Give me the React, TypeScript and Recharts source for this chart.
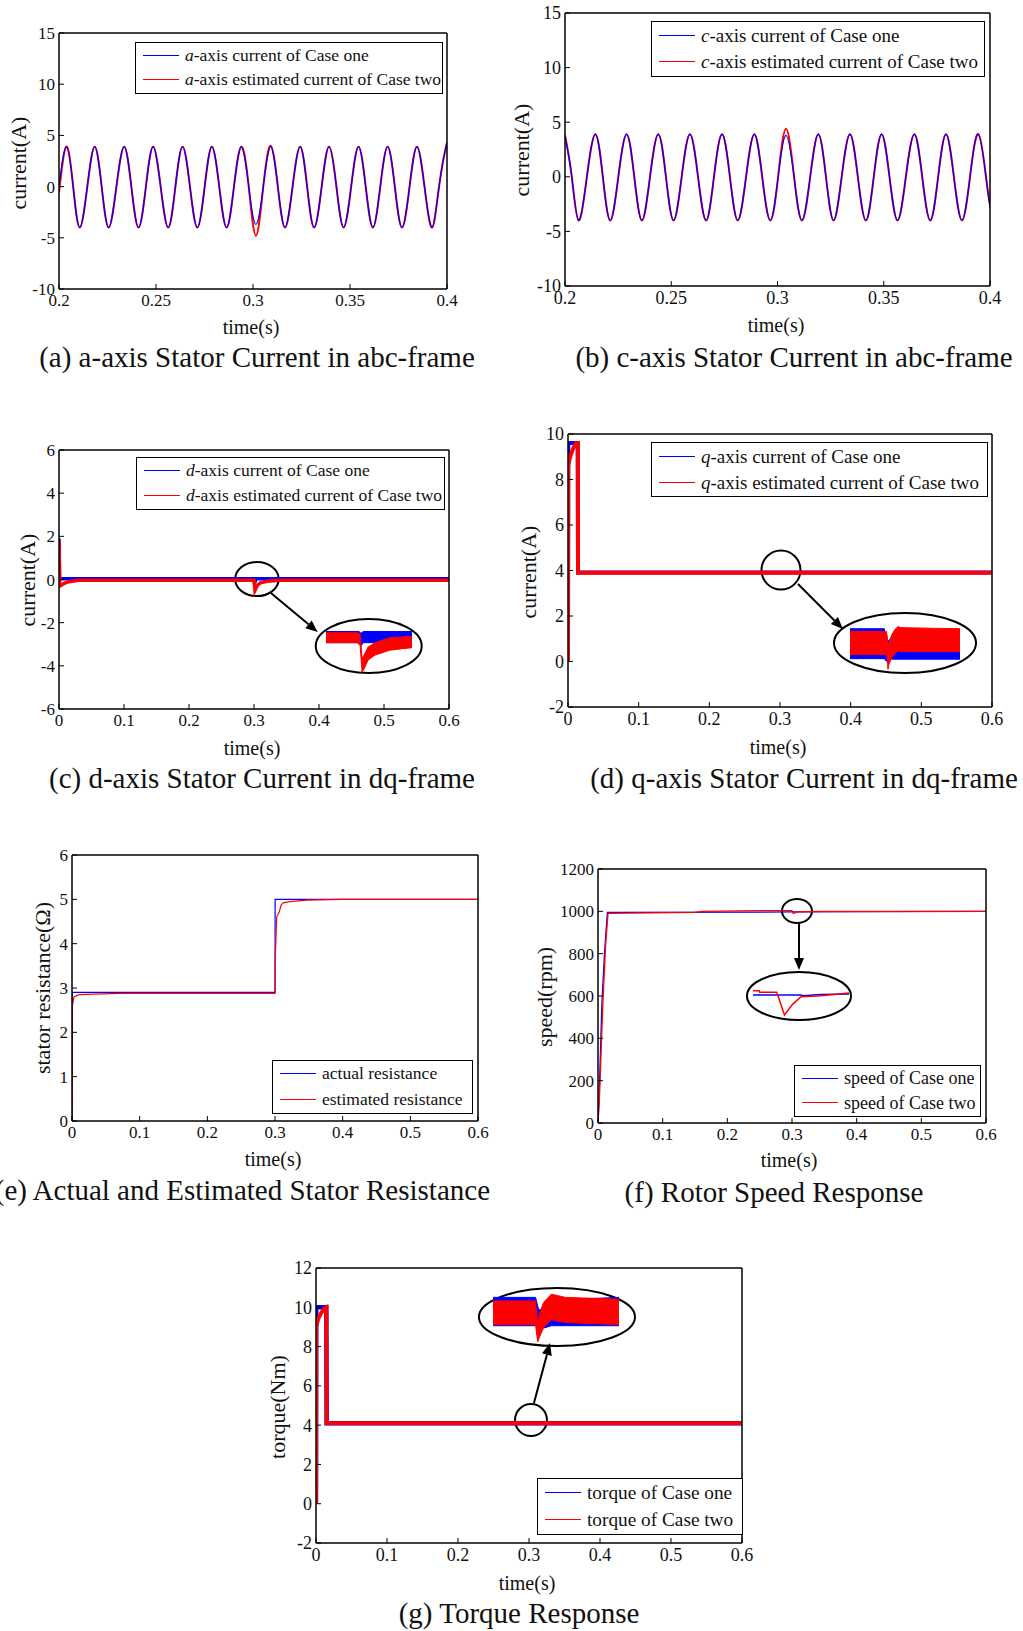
import React from 'react';
import {
  LineChart,
  ComposedChart,
  Line,
  Area,
  XAxis,
  YAxis,
  Legend,
  ReferenceArea,
  ReferenceLine,
} from 'recharts';

const FONT = '"Liberation Serif", "Times New Roman", serif';
const BLUE = '#0000ff';
const RED = '#ff0000';

// (a) a-axis current, 0.2 .. 0.4 s
const aTime = [0.2, 0.2038, 0.2073, 0.2107, 0.2146, 0.2184, 0.222, 0.2256, 0.2296, 0.2336, 0.2373, 0.241, 0.2448, 0.2485, 0.2524, 0.2563, 0.26, 0.2637, 0.2675, 0.2713, 0.2751, 0.2788, 0.2826, 0.2864, 0.2902, 0.294, 0.2978, 0.3015, 0.3053, 0.3091, 0.3128, 0.3165, 0.3204, 0.3243, 0.3279, 0.3315, 0.3354, 0.3392, 0.343, 0.3467, 0.3506, 0.3544, 0.3581, 0.3618, 0.3656, 0.3694, 0.3731, 0.3768, 0.3807, 0.3845, 0.3884, 0.3923, 0.3959, 0.3995, 0.4];
const aCaseOne = [0, 3.9, 0, -4, 0, 3.9, 0, -4, 0, 3.9, 0, -4, 0, 3.9, 0, -4, 0, 3.9, 0, -4, 0, 3.9, 0, -4, 0, 3.9, 0, -3.7, 0, 3.9, 0, -4, 0, 3.9, 0, -4, 0, 3.9, 0, -4, 0, 3.9, 0, -4, 0, 3.9, 0, -4, 0, 3.9, 0, -4, 0, 3.9, 3.8];
const aCaseTwo = [-0.6, 3.9, 0, -4, 0, 3.9, 0, -4, 0, 3.9, 0, -4, 0, 3.9, 0, -4, 0, 3.9, 0, -4, 0, 3.9, 0, -4, 0, 3.9, 0, -4.8, 0, 4.0, 0, -4, 0, 3.9, 0, -4, 0, 3.9, 0, -4, 0, 3.9, 0, -4, 0, 3.9, 0, -4, 0, 3.9, 0, -4, 0, 3.9, 3.9];

// (b) c-axis current
const bTime = [0.2, 0.2032, 0.2064, 0.2103, 0.2143, 0.2178, 0.2213, 0.2251, 0.229, 0.2326, 0.2362, 0.24, 0.2439, 0.2475, 0.2511, 0.2549, 0.2588, 0.2626, 0.2664, 0.2701, 0.2739, 0.2776, 0.2813, 0.2852, 0.2891, 0.2928, 0.2966, 0.3003, 0.304, 0.3078, 0.3115, 0.3154, 0.3192, 0.3228, 0.3264, 0.3302, 0.3341, 0.3378, 0.3416, 0.3453, 0.349, 0.3527, 0.3565, 0.3604, 0.3644, 0.3681, 0.3719, 0.3756, 0.3793, 0.383, 0.3868, 0.3906, 0.3945, 0.3981, 0.4];
const bCaseOne = [3.7, 0, -4, 0, 3.9, 0, -4, 0, 3.9, 0, -4, 0, 3.9, 0, -4, 0, 3.9, 0, -4, 0, 3.9, 0, -4, 0, 3.9, 0, -4, 0, 3.8, 0, -4, 0, 3.9, 0, -4, 0, 3.9, 0, -4, 0, 3.9, 0, -4, 0, 3.9, 0, -4, 0, 3.9, 0, -4, 0, 3.9, 0, -2.8];
const bCaseTwo = [3.8, 0, -4, 0, 3.9, 0, -4, 0, 3.9, 0, -4, 0, 3.9, 0, -4, 0, 3.9, 0, -4, 0, 3.9, 0, -4, 0, 3.9, 0, -4, 0, 4.4, 0, -4, 0, 3.9, 0, -4, 0, 3.9, 0, -4, 0, 3.9, 0, -4, 0, 3.9, 0, -4, 0, 3.9, 0, -4, 0, 3.9, 0, -2.6];

// (c) d-axis current
const cOneTime = [0, 0.0008, 0.003, 0.3, 0.3008, 0.303, 0.6];
const cOneVal = [1.9, 0.0, 0.03, 0.03, -0.2, 0.03, 0.03];
const cTwoTime = [0, 0.0012, 0.008, 0.015, 0.03, 0.3, 0.3015, 0.305, 0.31, 0.32, 0.34, 0.6];
const cTwoVal = [1.8, -0.3, -0.18, -0.1, -0.03, -0.03, -0.5, -0.28, -0.15, -0.08, -0.03, -0.03];

// (d) q-axis current
const dOneTime = [0, 0.0004, 0.0138, 0.0142, 0.6];
const dOneVal = [0, 9.6, 9.6, 3.91, 3.91];
const dTwoTime = [0, 0.0003, 0.003, 0.007, 0.0115, 0.0138, 0.0142, 0.6];
const dTwoVal = [0, 8.6, 9.0, 9.35, 9.6, 9.6, 3.9, 3.9];

// (e) stator resistance
const eOneTime = [0, 0.0003, 0.3, 0.3002, 0.6];
const eOneVal = [0, 2.9, 2.9, 5.0, 5.0];
const eTwoTime = [0, 0.0005, 0.003, 0.01, 0.07, 0.3, 0.3005, 0.3025, 0.3064, 0.309, 0.312, 0.322, 0.347, 0.398, 0.6];
const eTwoVal = [0, 2.6, 2.8, 2.85, 2.88, 2.88, 3.7, 4.6, 4.72, 4.87, 4.92, 4.95, 4.98, 5.0, 5.0];

// (f) rotor speed
const fOneTime = [0, 0.001, 0.003, 0.006, 0.01, 0.0145, 0.3, 0.6];
const fOneVal = [0, 80, 250, 560, 800, 995, 997, 1000];
const fTwoTime = [0, 0.002, 0.005, 0.008, 0.012, 0.0155, 0.15, 0.16, 0.25, 0.3, 0.302, 0.31, 0.35, 0.6];
const fTwoVal = [0, 100, 350, 600, 850, 990, 995, 1000, 1003, 1003, 990, 998, 1000, 1000];

// (g) torque
const gOneTime = [0, 0.0003, 0.0145, 0.015, 0.6];
const gOneVal = [0, 10, 10, 4.1, 4.1];
const gTwoTime = [0, 0.0003, 0.003, 0.007, 0.012, 0.0145, 0.015, 0.6];
const gTwoVal = [0, 9.0, 9.4, 9.7, 9.95, 10, 4.1, 4.1];

// zoomed insets (noise bands as low/high)
const cInBlueT = [0.29, 0.3015, 0.3022, 0.303, 0.32];
const cInBlueLo = [-0.1, -0.1, -0.15, -0.1, -0.1];
const cInBlueHi = [0.08, 0.08, 0.05, 0.08, 0.08];
const cInRedT = [0.29, 0.301, 0.3019, 0.3026, 0.3033, 0.3047, 0.3071, 0.3123, 0.32];
const cInRedLo = [-0.1, -0.1, -0.15, -0.58, -0.52, -0.38, -0.3, -0.22, -0.18];
const cInRedHi = [0.06, 0.06, 0.04, -0.35, -0.3, -0.17, -0.1, -0.02, 0.0];

const dInBlueT = [0.28, 0.2925, 0.2932, 0.2942, 0.2955, 0.32];
const dInBlueLo = [3.7, 3.7, 3.65, 3.7, 3.69, 3.69];
const dInBlueHi = [4.26, 4.26, 4.0, 4.05, 4.08, 4.08];
const dInRedT = [0.28, 0.2932, 0.2936, 0.2938, 0.2942, 0.2952, 0.2964, 0.2975, 0.2985, 0.32];
const dInRedLo = [3.78, 3.78, 3.7, 3.5, 3.6, 3.72, 3.8, 3.85, 3.83, 3.83];
const dInRedHi = [4.21, 4.21, 4.1, 3.9, 4.0, 4.15, 4.25, 4.3, 4.28, 4.26];

const fInBlueT = [0.28, 0.3, 0.301, 0.3083, 0.32];
const fInBlueV = [997, 997, 996, 998, 999];
const fInRedT = [0.28, 0.2826, 0.2828, 0.2899, 0.2903, 0.2931, 0.2965, 0.3, 0.3083, 0.32];
const fInRedV = [1005, 1005, 1002, 1002, 997, 960.5, 980, 994, 996, 1001];

const gInBlueT = [0.28, 0.2935, 0.2945, 0.2985, 0.306, 0.32];
const gInBlueLo = [3.66, 3.66, 3.55, 3.66, 3.66, 3.66];
const gInBlueHi = [4.45, 4.45, 4.1, 4.17, 4.4, 4.45];
const gInRedT = [0.28, 0.2935, 0.2939, 0.2942, 0.2948, 0.296, 0.2985, 0.303, 0.32];
const gInRedLo = [3.69, 3.69, 3.4, 3.21, 3.35, 3.6, 3.83, 3.75, 3.69];
const gInRedHi = [4.35, 4.35, 4.0, 3.7, 4.0, 4.3, 4.54, 4.45, 4.4];

const ticks02_04 = [0.2, 0.25, 0.3, 0.35, 0.4];
const ticks0_06 = [0, 0.1, 0.2, 0.3, 0.4, 0.5, 0.6];

const rows = (t: number[], v: number[]) => t.map((x, i) => ({ t: x, v: v[i] }));
const bandRows = (t: number[], lo: number[], hi: number[]) =>
  t.map((x, i) => ({ t: x, band: [lo[i], hi[i]] }));

const axisLineStyle = { stroke: '#000', strokeWidth: 1.5 };
const tickLineStyle = { stroke: '#000', strokeWidth: 1 };

type Series = {
  name: string;
  t: number[];
  v: number[];
  color: string;
  width: number;
  curve?: 'linear' | 'natural';
};

type Box = { x: number; y: number; w: number; h: number };

const ellipseShape = (p: any) => (
  <ellipse
    cx={p.x + p.width / 2}
    cy={p.y + p.height / 2}
    rx={Math.abs(p.width) / 2}
    ry={Math.abs(p.height) / 2}
    fill="none"
    stroke="#000"
    strokeWidth={2}
  />
);

const arrowShape = (p: any) => {
  const { x1, y1, x2, y2 } = p;
  const a = Math.atan2(y2 - y1, x2 - x1);
  const len = 12;
  const half = 5;
  const bx = x2 - len * Math.cos(a);
  const by = y2 - len * Math.sin(a);
  const pts = `${x2},${y2} ${bx + half * Math.sin(a)},${by - half * Math.cos(a)} ${bx - half * Math.sin(a)},${by + half * Math.cos(a)}`;
  return (
    <g>
      <line x1={x1} y1={y1} x2={bx} y2={by} stroke="#000" strokeWidth={2} />
      <polygon points={pts} fill="#000" />
    </g>
  );
};

function legendName(name: string) {
  if (/^[a-z]-axis/.test(name)) {
    return (
      <>
        <i>{name[0]}</i>
        {name.slice(1)}
      </>
    );
  }
  return name;
}

function LegendBox({ payload, box, fontSize }: { payload: any[]; box: Box; fontSize: number }) {
  const items = [...(payload || [])].sort((a, b) => (a.color === BLUE ? -1 : 0) - (b.color === BLUE ? -1 : 0));
  const rowH = (box.h - 3) / 2;
  return (
    <div
      style={{
        boxSizing: 'border-box',
        width: box.w,
        height: box.h,
        border: '1.5px solid #000',
        background: '#fff',
        fontFamily: FONT,
        fontSize,
        color: '#111',
        lineHeight: 1,
      }}
    >
      {items.map((item) => (
        <div key={item.value} style={{ display: 'flex', alignItems: 'center', height: rowH, whiteSpace: 'nowrap' }}>
          <span
            style={{
              display: 'inline-block',
              width: 36,
              borderTop: `1.5px solid ${item.color}`,
              marginLeft: 7,
              marginRight: 6,
            }}
          />
          <span>{legendName(item.value)}</span>
        </div>
      ))}
    </div>
  );
}

type PanelProps = {
  plot: Box;
  xDomain: [number, number];
  xTicks: number[];
  yDomain: [number, number];
  yTicks: number[];
  series: Series[];
  legend: Box;
  legendFont?: number;
  tickFont?: number;
  children?: React.ReactNode;
};

function Panel({ plot, xDomain, xTicks, yDomain, yTicks, series, legend, legendFont = 17.5, tickFont = 17, children }: PanelProps) {
  const ml = 50;
  const mt = 10;
  const left = plot.x - ml;
  const top = plot.y - mt;
  const tickText = { fontSize: tickFont, fill: '#111', fontFamily: FONT };
  return (
    <div style={{ position: 'absolute', left, top }}>
      <LineChart width={plot.w + ml + 18} height={plot.h + mt + 30} margin={{ top: mt - 1, right: 17, bottom: 0, left: 0 }}>
        <XAxis
          type="number"
          dataKey="t"
          domain={xDomain}
          ticks={xTicks}
          allowDataOverflow
          interval={0}
          height={30}
          tickSize={-5}
          tickMargin={10}
          axisLine={axisLineStyle}
          tickLine={tickLineStyle}
          tick={tickText}
        />
        <XAxis
          xAxisId="top"
          orientation="top"
          type="number"
          domain={xDomain}
          ticks={xTicks}
          allowDataOverflow
          interval={0}
          height={1}
          tickSize={-5}
          axisLine={axisLineStyle}
          tickLine={tickLineStyle}
          tick={false}
        />
        <YAxis
          type="number"
          domain={yDomain}
          ticks={yTicks}
          allowDataOverflow
          interval={0}
          width={ml}
          tickSize={-5}
          tickMargin={9}
          axisLine={axisLineStyle}
          tickLine={tickLineStyle}
          tick={tickText}
        />
        <YAxis
          yAxisId="right"
          orientation="right"
          type="number"
          domain={yDomain}
          ticks={yTicks}
          allowDataOverflow
          interval={0}
          width={1}
          tickSize={-5}
          axisLine={axisLineStyle}
          tickLine={tickLineStyle}
          tick={false}
        />
        {children}
        {series.map((s) => (
          <Line
            key={s.name}
            name={s.name}
            data={rows(s.t, s.v)}
            dataKey="v"
            type={s.curve || 'linear'}
            stroke={s.color}
            strokeWidth={s.width}
            dot={false}
            activeDot={false}
            isAnimationActive={false}
          />
        ))}
        <Legend
          layout="horizontal"
          verticalAlign="middle"
          align="center"
          wrapperStyle={{ left: legend.x - left, top: legend.y - top, width: legend.w, height: legend.h }}
          content={(p: any) => <LegendBox payload={p.payload} box={legend} fontSize={legendFont} />}
        />
      </LineChart>
    </div>
  );
}

type Band = { t: number[]; lo: number[]; hi: number[]; color: string };
type Trace = { t: number[]; v: number[]; color: string };

function Inset({ box, xDomain, yDomain, bands = [], traces = [] }: {
  box: Box;
  xDomain: [number, number];
  yDomain: [number, number];
  bands?: Band[];
  traces?: Trace[];
}) {
  return (
    <div style={{ position: 'absolute', left: box.x, top: box.y }}>
      <ComposedChart width={box.w} height={box.h} margin={{ top: 0, right: 0, bottom: 0, left: 0 }}>
        <XAxis type="number" dataKey="t" domain={xDomain} allowDataOverflow hide />
        <YAxis type="number" domain={yDomain} allowDataOverflow hide />
        {bands.map((b, i) => (
          <Area
            key={'b' + i}
            data={bandRows(b.t, b.lo, b.hi)}
            dataKey="band"
            type="linear"
            stroke={b.color}
            strokeWidth={1}
            fill={b.color}
            fillOpacity={1}
            dot={false}
            activeDot={false}
            isAnimationActive={false}
          />
        ))}
        {traces.map((tr, i) => (
          <Line
            key={'l' + i}
            data={rows(tr.t, tr.v)}
            dataKey="v"
            type="linear"
            stroke={tr.color}
            strokeWidth={1.5}
            dot={false}
            activeDot={false}
            isAnimationActive={false}
          />
        ))}
      </ComposedChart>
    </div>
  );
}

export default function App() {
  const text = { fontFamily: FONT, fill: '#111' };
  return (
    <div style={{ position: 'absolute', left: 0, top: 0, width: 1023, height: 1631, background: '#fff' }}>
      <Panel
        plot={{ x: 59, y: 33, w: 388, h: 256 }}
        xDomain={[0.2, 0.4]}
        xTicks={ticks02_04}
        yDomain={[-10, 15]}
        yTicks={[-10, -5, 0, 5, 10, 15]}
        legend={{ x: 135, y: 42, w: 308, h: 52 }}
        series={[
          { name: 'a-axis estimated current of Case two', t: aTime, v: aCaseTwo, color: RED, width: 2, curve: 'natural' },
          { name: 'a-axis current of Case one', t: aTime, v: aCaseOne, color: BLUE, width: 1.2, curve: 'natural' },
        ]}
      />
      <Panel
        plot={{ x: 565, y: 13, w: 425, h: 273 }}
        xDomain={[0.2, 0.4]}
        xTicks={ticks02_04}
        yDomain={[-10, 15]}
        yTicks={[-10, -5, 0, 5, 10, 15]}
        legend={{ x: 651, y: 21, w: 334, h: 56 }}
        legendFont={19}
        tickFont={18}
        series={[
          { name: 'c-axis estimated current of Case two', t: bTime, v: bCaseTwo, color: RED, width: 2, curve: 'natural' },
          { name: 'c-axis current of Case one', t: bTime, v: bCaseOne, color: BLUE, width: 1.2, curve: 'natural' },
        ]}
      />
      <Panel
        plot={{ x: 59, y: 450, w: 390, h: 259 }}
        xDomain={[0, 0.6]}
        xTicks={ticks0_06}
        yDomain={[-6, 6]}
        yTicks={[-6, -4, -2, 0, 2, 4, 6]}
        legend={{ x: 136, y: 457, w: 309, h: 53 }}
        series={[
          { name: 'd-axis current of Case one', t: cOneTime, v: cOneVal, color: BLUE, width: 3.5 },
          { name: 'd-axis estimated current of Case two', t: cTwoTime, v: cTwoVal, color: RED, width: 3.5 },
        ]}
      >
        <ReferenceArea x1={0.271} x2={0.338} y1={-0.77} y2={0.81} shape={ellipseShape} />
        <ReferenceArea x1={0.395} x2={0.558} y1={-4.33} y2={-1.83} shape={ellipseShape} />
        <ReferenceLine segment={[{ x: 0.326, y: -0.63 }, { x: 0.398, y: -2.43 }]} shape={arrowShape} />
      </Panel>
      <Panel
        plot={{ x: 568, y: 434, w: 424, h: 273 }}
        xDomain={[0, 0.6]}
        xTicks={ticks0_06}
        yDomain={[-2, 10]}
        yTicks={[-2, 0, 2, 4, 6, 8, 10]}
        legend={{ x: 651, y: 442, w: 337, h: 55 }}
        legendFont={19}
        tickFont={18}
        series={[
          { name: 'q-axis current of Case one', t: dOneTime, v: dOneVal, color: BLUE, width: 4 },
          { name: 'q-axis estimated current of Case two', t: dTwoTime, v: dTwoVal, color: RED, width: 4 },
        ]}
      >
        <ReferenceArea x1={0.2738} x2={0.329} y1={3.16} y2={4.88} shape={ellipseShape} />
        <ReferenceArea x1={0.3764} x2={0.5774} y1={-0.506} y2={2.132} shape={ellipseShape} />
        <ReferenceLine segment={[{ x: 0.3255, y: 3.41 }, { x: 0.389, y: 1.43 }]} shape={arrowShape} />
      </Panel>
      <Panel
        plot={{ x: 72, y: 855, w: 406, h: 266 }}
        xDomain={[0, 0.6]}
        xTicks={ticks0_06}
        yDomain={[0, 6]}
        yTicks={[0, 1, 2, 3, 4, 5, 6]}
        legend={{ x: 272, y: 1060, w: 201, h: 54 }}
        series={[
          { name: 'actual resistance', t: eOneTime, v: eOneVal, color: BLUE, width: 1.2 },
          { name: 'estimated resistance', t: eTwoTime, v: eTwoVal, color: RED, width: 1.2 },
        ]}
      />
      <Panel
        plot={{ x: 598, y: 869, w: 388, h: 254 }}
        xDomain={[0, 0.6]}
        xTicks={ticks0_06}
        yDomain={[0, 1200]}
        yTicks={[0, 200, 400, 600, 800, 1000, 1200]}
        legend={{ x: 794, y: 1065, w: 187, h: 52 }}
        legendFont={18}
        series={[
          { name: 'speed of Case one', t: fOneTime, v: fOneVal, color: BLUE, width: 1.3 },
          { name: 'speed of Case two', t: fTwoTime, v: fTwoVal, color: RED, width: 1.3 },
        ]}
      >
        <ReferenceArea x1={0.2845} x2={0.3309} y1={945} y2={1058} shape={ellipseShape} />
        <ReferenceArea x1={0.2304} x2={0.3912} y1={486.6} y2={713.4} shape={ellipseShape} />
        <ReferenceLine segment={[{ x: 0.3108, y: 945 }, { x: 0.3108, y: 723 }]} shape={arrowShape} />
      </Panel>
      <Panel
        plot={{ x: 316, y: 1268, w: 426, h: 275 }}
        xDomain={[0, 0.6]}
        xTicks={ticks0_06}
        yDomain={[-2, 12]}
        yTicks={[-2, 0, 2, 4, 6, 8, 10, 12]}
        legend={{ x: 537, y: 1478, w: 206, h: 57 }}
        legendFont={19.3}
        tickFont={18}
        series={[
          { name: 'torque of Case one', t: gOneTime, v: gOneVal, color: BLUE, width: 4.5 },
          { name: 'torque of Case two', t: gTwoTime, v: gTwoVal, color: RED, width: 4 },
        ]}
      >
        <ReferenceArea x1={0.2803} x2={0.3253} y1={3.445} y2={5.075} shape={ellipseShape} />
        <ReferenceArea x1={0.2295} x2={0.4493} y1={8.028} y2={10.982} shape={ellipseShape} />
        <ReferenceLine segment={[{ x: 0.307, y: 5.13 }, { x: 0.3296, y: 8.18 }]} shape={arrowShape} />
      </Panel>

      <Inset
        box={{ x: 326, y: 629, w: 86, h: 46 }}
        xDomain={[0.29, 0.32]}
        yDomain={[-0.62, 0.12]}
        bands={[
          { t: cInBlueT, lo: cInBlueLo, hi: cInBlueHi, color: BLUE },
          { t: cInRedT, lo: cInRedLo, hi: cInRedHi, color: RED },
        ]}
      />
      <Inset
        box={{ x: 850, y: 625, w: 110, h: 47 }}
        xDomain={[0.28, 0.32]}
        yDomain={[3.45, 4.33]}
        bands={[
          { t: dInBlueT, lo: dInBlueLo, hi: dInBlueHi, color: BLUE },
          { t: dInRedT, lo: dInRedLo, hi: dInRedHi, color: RED },
        ]}
      />
      <Inset
        box={{ x: 753, y: 988, w: 96, h: 30 }}
        xDomain={[0.28, 0.32]}
        yDomain={[955, 1010]}
        traces={[
          { t: fInBlueT, v: fInBlueV, color: BLUE },
          { t: fInRedT, v: fInRedV, color: RED },
        ]}
      />
      <Inset
        box={{ x: 493, y: 1292, w: 126, h: 52 }}
        xDomain={[0.28, 0.32]}
        yDomain={[3.15, 4.6]}
        bands={[
          { t: gInBlueT, lo: gInBlueLo, hi: gInBlueHi, color: BLUE },
          { t: gInRedT, lo: gInRedLo, hi: gInRedHi, color: RED },
        ]}
      />

      <svg width={1023} height={1631} style={{ position: 'absolute', left: 0, top: 0, pointerEvents: 'none' }}>
        <g {...text} fontSize={20} textAnchor="middle" dominantBaseline="central">
          <text x={251} y={327}>time(s)</text>
          <text x={776} y={325}>time(s)</text>
          <text x={252} y={748}>time(s)</text>
          <text x={778} y={747}>time(s)</text>
          <text x={273} y={1159}>time(s)</text>
          <text x={789} y={1160}>time(s)</text>
          <text x={527} y={1583}>time(s)</text>
        </g>
        <g {...text} fontSize={22} textAnchor="middle" dominantBaseline="central">
          <text transform="translate(18,163) rotate(-90)">current(A)</text>
          <text transform="translate(521,150) rotate(-90)">current(A)</text>
          <text transform="translate(27,580) rotate(-90)">current(A)</text>
          <text transform="translate(528,572) rotate(-90)">current(A)</text>
          <text transform="translate(42,988) rotate(-90)">stator resistance(Ω)</text>
          <text transform="translate(544,997) rotate(-90)">speed(rpm)</text>
          <text transform="translate(277,1407) rotate(-90)">torque(Nm)</text>
        </g>
        <g {...text} fontSize={29} dominantBaseline="central">
          <text x={257} y={357} textAnchor="middle">(a) a-axis Stator Current in abc-frame</text>
          <text x={794} y={357} textAnchor="middle">(b) c-axis Stator Current in abc-frame</text>
          <text x={262} y={778} textAnchor="middle">(c) d-axis Stator Current in dq-frame</text>
          <text x={804} y={778} textAnchor="middle">(d) q-axis Stator Current in dq-frame</text>
          <text x={490} y={1190} textAnchor="end">(e) Actual and Estimated Stator Resistance</text>
          <text x={774} y={1192} textAnchor="middle">(f) Rotor Speed Response</text>
          <text x={519} y={1613} textAnchor="middle">(g) Torque Response</text>
        </g>
      </svg>
    </div>
  );
}
